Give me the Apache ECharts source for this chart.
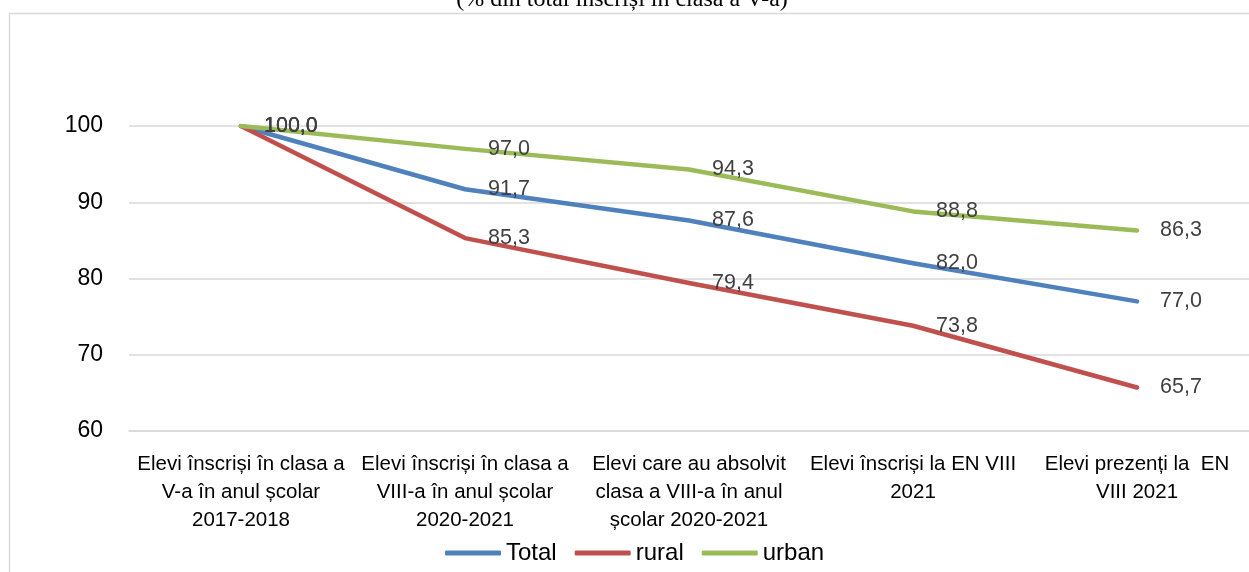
<!DOCTYPE html>
<html>
<head>
<meta charset="utf-8">
<script src="https://cdn.jsdelivr.net/npm/echarts@6/dist/echarts.min.js"></script>
<style>
  html, body { margin: 0; padding: 0; background: #fff; }
  #chart { width: 1249px; height: 572px; }
</style>
</head>
<body>
<div id="chart"></div>
<script>
  // categorii (axa X)
  var categories = [
    'Elevi înscriși în clasa a\nV-a în anul școlar\n2017-2018',
    'Elevi înscriși în clasa a\nVIII-a în anul școlar\n2020-2021',
    'Elevi care au absolvit\nclasa a VIII-a în anul\nșcolar 2020-2021',
    'Elevi înscriși la EN VIII\n2021',
    'Elevi prezenți la  EN\nVIII 2021'
  ];
  var seriesNames = ['Total', 'rural', 'urban'];
  var total = [100.0, 91.7, 87.6, 82.0, 77.0];
  var rural = [100.0, 85.3, 79.4, 73.8, 65.7];
  var urban = [100.0, 97.0, 94.3, 88.8, 86.3];
  var colors = ['#4F81BD', '#C0504D', '#9BBB59'];

  var myChart = echarts.init(document.getElementById('chart'));

  function makeSeries(name, data, color) {
    return {
      name: name,
      type: 'line',
      data: data,
      symbol: 'circle',
      symbolSize: 0,
      showSymbol: true,
      color: color,
      lineStyle: { width: 4.5, color: color, cap: 'round', join: 'round' },
      label: {
        show: true,
        position: 'right',
        distance: 23,
        color: '#404040',
        fontFamily: 'Liberation Sans',
        fontSize: 21.5,
        formatter: function (p) { return p.value.toFixed(1).replace('.', ','); }
      },
      emphasis: { disabled: true },
      animation: false
    };
  }

  var option = {
    animation: false,
    graphic: [
      {
        type: 'rect',
        shape: { x: 9.5, y: 13.5, width: 1400, height: 700 },
        style: { fill: 'none', stroke: '#d9d9d9', lineWidth: 1.5 },
        silent: true
      },
      {
        type: 'text',
        x: 622,
        y: 0,
        style: {
          text: '(% din total înscriși în clasa a V-a)',
          fontFamily: 'Liberation Serif',
          fontSize: 24,
          fill: '#000',
          align: 'center',
          verticalAlign: 'middle'
        },
        silent: true
      }
    ],
    legend: {
      data: seriesNames,
      left: 440,
      bottom: 2,
      itemWidth: 56,
      itemHeight: 5,
      itemGap: 18,
      icon: 'roundRect',
      textStyle: { fontFamily: 'Liberation Sans', fontSize: 24, color: '#000' }
    },
    grid: {
      left: 129,
      right: -1,
      top: 126,
      bottom: 141,
      containLabel: false
    },
    xAxis: {
      type: 'category',
      data: categories,
      boundaryGap: true,
      axisTick: { show: false },
      axisLine: { lineStyle: { color: '#d9d9d9', width: 1.5 } },
      axisLabel: {
        interval: 0,
        margin: 19,
        color: '#000',
        fontFamily: 'Liberation Sans',
        fontSize: 20.5,
        lineHeight: 28
      }
    },
    yAxis: {
      type: 'value',
      min: 60,
      max: 100,
      interval: 10,
      axisLine: { show: false },
      axisTick: { show: false },
      splitLine: { lineStyle: { color: '#d9d9d9', width: 1.5 } },
      axisLabel: {
        margin: 26,
        color: '#000',
        fontFamily: 'Liberation Sans',
        fontSize: 23
      }
    },
    series: [
      makeSeries(seriesNames[0], total, colors[0]),
      makeSeries(seriesNames[1], rural, colors[1]),
      makeSeries(seriesNames[2], urban, colors[2])
    ]
  };
  myChart.setOption(option);
</script>
</body>
</html>
